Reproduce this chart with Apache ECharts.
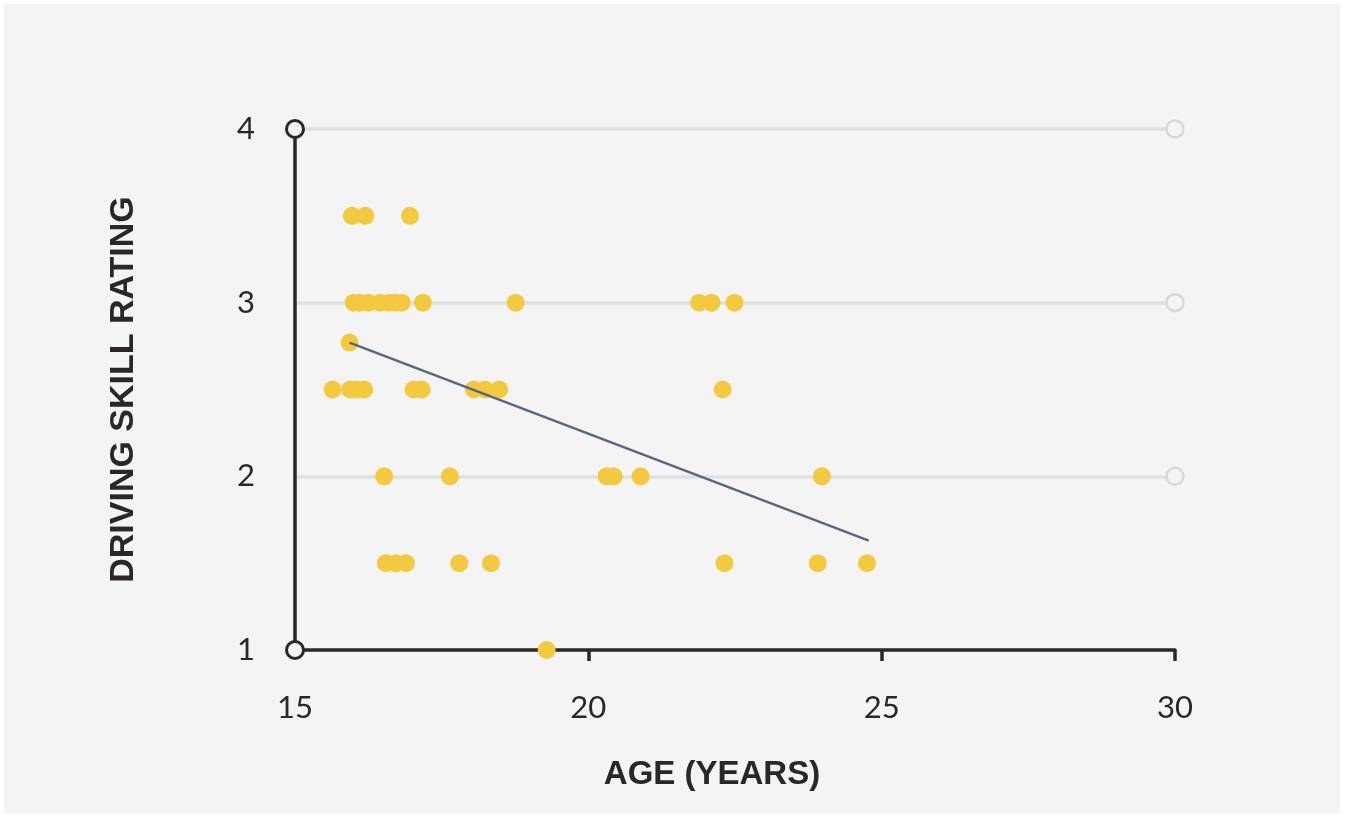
<!DOCTYPE html>
<html>
<head>
<meta charset="utf-8">
<script src="https://cdn.jsdelivr.net/npm/echarts@6/dist/echarts.min.js"></script>
<style>
html,body{margin:0;padding:0;background:#ffffff;}
#chart{width:1346px;height:822px;}
</style>
</head>
<body>
<div id="chart"></div>
<script>
// Age (years) and driving skill rating of each driver
const ages = [
  15.97, 16.20, 16.96,
  16.0, 16.1, 16.25, 16.45, 16.6, 16.7, 16.82, 17.18, 18.76, 21.89, 22.10, 22.49,
  15.93,
  15.64, 15.94, 16.05, 16.18, 17.02, 17.16, 18.05, 18.24, 18.48, 22.29,
  16.52, 17.64, 20.31, 20.43, 20.89, 23.98,
  16.55, 16.72, 16.89, 17.80, 18.34, 22.32, 23.91, 24.75,
  19.29
];
const ratings = [
  3.5, 3.5, 3.5,
  3, 3, 3, 3, 3, 3, 3, 3, 3, 3, 3, 3,
  2.77,
  2.5, 2.5, 2.5, 2.5, 2.5, 2.5, 2.5, 2.5, 2.5, 2.5,
  2, 2, 2, 2, 2, 2,
  1.5, 1.5, 1.5, 1.5, 1.5, 1.5, 1.5, 1.5,
  1
];
// Trend line end points
const trendAges = [15.93, 24.78];
const trendRatings = [2.77, 1.63];
// Axis ticks
const xTicks = [15, 20, 25, 30];
const yTicks = [1, 2, 3, 4];
// Axis end caps
const axisCapAges = [15, 15];
const axisCapRatings = [4, 1];
const gridCapAges = [30, 30, 30];
const gridCapRatings = [2, 3, 4];

const dark = '#2b2727';
const font = 'Lato';
const titleFont = 'Liberation Sans';

const points = ages.map((a, i) => [a, ratings[i]]);
const trend = trendAges.map((a, i) => [a, trendRatings[i]]);
const axisCaps = axisCapAges.map((a, i) => [a, axisCapRatings[i]]);
const gridCaps = gridCapAges.map((a, i) => [a, gridCapRatings[i]]);

const chart = echarts.init(document.getElementById('chart'), null, {renderer: 'canvas'});
chart.setOption({
  backgroundColor: '#ffffff',
  animation: false,
  graphic: [{
    type: 'rect', z: -100, silent: true,
    shape: {x: 4, y: 4, width: 1336, height: 810},
    style: {fill: '#f4f4f4'}
  }],
  grid: {left: 295, right: 171, top: 129, bottom: 172},
  xAxis: {
    type: 'value', min: 15, max: 30, interval: 5,
    name: 'AGE (YEARS)', nameLocation: 'middle', nameGap: 108,
    nameTextStyle: {fontFamily: titleFont, fontSize: 33, fontWeight: 'bold', color: dark, padding: [0, 46, 0, 0]},
    axisLine: {show: true, lineStyle: {color: dark, width: 3.5}},
    axisTick: {show: true, length: 11, lineStyle: {color: dark, width: 3.5}, customValues: [20, 25, 30]},
    axisLabel: {fontFamily: font, fontSize: 31, color: dark, margin: 42, customValues: xTicks},
    splitLine: {show: false}
  },
  yAxis: {
    type: 'value', min: 1, max: 4, interval: 1,
    name: 'DRIVING SKILL RATING', nameLocation: 'middle', nameGap: 154, nameRotate: 90,
    nameTextStyle: {fontFamily: titleFont, fontSize: 34, fontWeight: 'bold', color: dark, padding: [0, 0, 0, 0]},
    axisLine: {show: true, lineStyle: {color: dark, width: 3.5}},
    axisTick: {show: false},
    axisLabel: {fontFamily: font, fontSize: 31, color: dark, margin: 40, customValues: yTicks},
    splitLine: {show: true, lineStyle: {color: ['rgba(0,0,0,0)', '#e1e1e1', '#e1e1e1', '#e1e1e1'], width: 3.5}}
  },
  series: [
    {
      type: 'scatter', name: 'Drivers', data: points, symbolSize: 18,
      itemStyle: {color: '#f2c93f', opacity: 1}, z: 3
    },
    {
      type: 'line', name: 'Trend', data: trend, showSymbol: false, symbol: 'none',
      lineStyle: {color: '#566781', width: 2.5}, z: 4
    },
    {
      type: 'scatter', name: 'Grid caps', data: gridCaps, symbolSize: 17,
      itemStyle: {color: '#f4f4f4', borderColor: '#d8d8d8', borderWidth: 2.5, opacity: 1}, z: 2
    },
    {
      type: 'scatter', name: 'Axis caps', data: axisCaps, symbolSize: 17,
      itemStyle: {color: '#f4f4f4', borderColor: dark, borderWidth: 3, opacity: 1}, z: 5
    }
  ]
});
</script>
</body>
</html>
